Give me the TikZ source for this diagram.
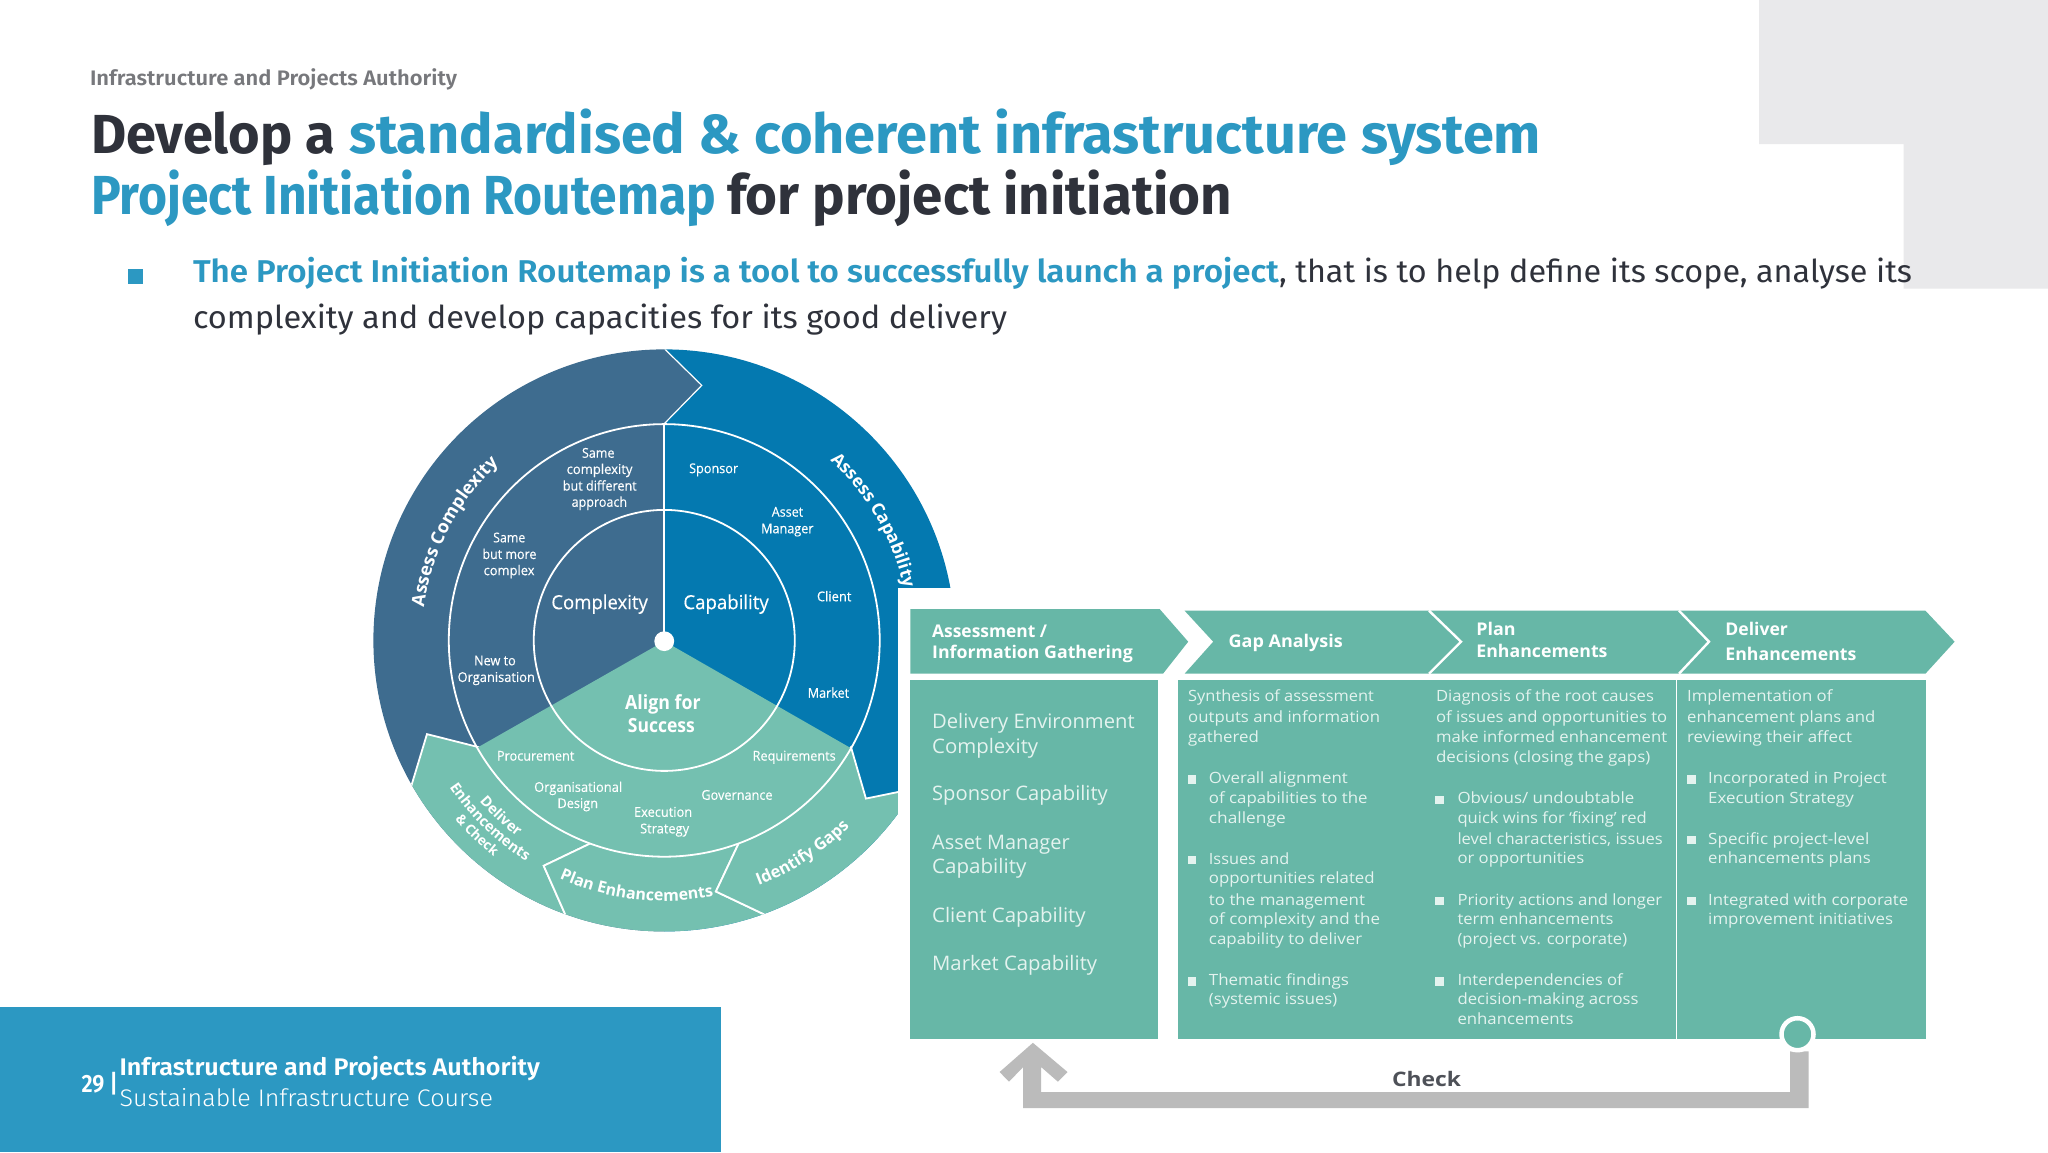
\documentclass[tikz,border=0pt]{standalone}
\usepackage{graphicx}
\usepackage{fontspec}
\usetikzlibrary{decorations.text}
\setmainfont{Fira Sans}
\newfontfamily\fsemi{Fira Sans SemiBold}
\newfontfamily\flight{Fira Sans Light}
\newfontfamily\osr{Open Sans}
\newfontfamily\ossb{Open Sans}[FakeBold=0.25]
\definecolor{slideblue}{HTML}{2C98C2}
\definecolor{ink}{HTML}{2F323B}
\definecolor{headgrey}{HTML}{77787C}
\definecolor{panel}{HTML}{E9E9EB}
\definecolor{dkwheel}{HTML}{3E6C8F}
\definecolor{bluewheel}{HTML}{0479B0}
\definecolor{tealwheel}{HTML}{74C0B0}
\definecolor{teal}{HTML}{67B7A7}
\definecolor{soft}{HTML}{E4F3EF}
\definecolor{pipe}{HTML}{BBBBBB}
\newcounter{tn}
\def\zf{1}
\tikzset{
  ztext/.style={anchor=base west,inner sep=0pt,outer sep=0pt},
  wline/.style={draw=white,line width=1.8pt},
  wseg/.style={fill=tealwheel,draw=white,line width=1.8pt,line join=miter},
  chevline/.style={draw=white,line width=2.4pt},
  tealfill/.style={fill=teal,draw=none},
  bull/.style={fill=soft,draw=none},
}
% font, x1, x2, baseline y, text  (x1..x2 forces the printed width)
\newcommand\zt[5]{\stepcounter{tn}\pgfmathsetmacro\wz{(#3-#2)*\zf}%
  \node[ztext] (t\arabic{tn}) at (#2,#4) {\resizebox{\wz pt}{\height}{#1#5}};}
\newcommand\bl[2]{\fill[bull] (#1-12,#2-12) rectangle (#1+12,#2+12);}
\newcommand\cbody{\color{soft}\osr\fontsize{15.5}{18}\selectfont}
\newcommand\cbig{\color{soft}\osr\fontsize{20}{24}\selectfont}
\newcommand\chead{\color{white}\osr\bfseries\fontsize{17.5}{20}\selectfont}
\newcommand\wsmall{\color{white}\ossb\fontsize{13.5}{16}\selectfont}
\begin{document}
\begin{tikzpicture}[x=1pt,y=-1pt]
\useasboundingbox (0,0) rectangle (2048,1152);
\fill[white] (0,0) rectangle (2048,1152);
% grey corner
\fill[panel] (1759,0) -- (2048,0) -- (2048,288.7) -- (1903.7,288.7) -- (1903.7,144) -- (1759,144) -- cycle;
% footer
\fill[slideblue] (0,1007) rectangle (721,1152);
\def\zf{1}
\zt{\color{headgrey}\fsemi\fontsize{21}{24}\selectfont}{90}{457}{85}{Infrastructure and Projects Authority}
\zt{\color{ink}\bfseries\fontsize{55}{60}\selectfont}{91}{335}{153}{Develop a}
\zt{\color{slideblue}\bfseries\fontsize{55}{60}\selectfont}{349}{1541}{153}{standardised \& coherent infrastructure system}
\zt{\color{slideblue}\bfseries\fontsize{55}{60}\selectfont}{91}{716}{214}{Project Initiation Routemap}
\zt{\color{ink}\bfseries\fontsize{55}{60}\selectfont}{727}{1232}{214}{for project initiation}
\fill[slideblue] (127.5,269) rectangle (143,284);
\zt{\color{slideblue}\fsemi\fontsize{31.5}{36}\selectfont}{193}{1279}{282}{The Project Initiation Routemap is a tool to successfully launch a project}
\zt{\color{ink}\fontsize{31.5}{36}\selectfont}{1279}{1912}{282}{, that is to help define its scope, analyse its}
\zt{\color{ink}\fontsize{31.5}{36}\selectfont}{193}{1007}{328}{complexity and develop capacities for its good delivery}
\zt{\color{white}\fsemi\fontsize{25}{28}\selectfont}{81.5}{118}{1092}{29 |}
\zt{\color{white}\fsemi\fontsize{24}{28}\selectfont}{119.5}{540}{1075}{Infrastructure and Projects Authority}
\zt{\color{white}\flight\fontsize{24}{28}\selectfont}{119.5}{493}{1106}{Sustainable Infrastructure Course}

% ---------- wheel
\def\zf{0.38270}
\begin{scope}[shift={(360,330)},x=0.38270pt,y=-0.39541pt]
  \begin{scope}
    \clip (795,785) circle [x radius=760,y radius=736];
    \fill[bluewheel] (795,0) rectangle (1600,1600);
    \fill[dkwheel] (0,0) -- (795,0) -- (795,47) -- (893,140) -- (795,237) -- (795,1600) -- (0,1600) -- cycle;
    \draw[wline,line width=1.2pt] (795,47) -- (893,140) -- (795,237);
    \path[wseg] (175,1022) -- (110,1230) -- (300,1560) -- (560,1530) -- (480,1355) -- (605,1297) -- (310,1055) -- cycle;
    \path[wseg] (605,1297) -- (480,1355) -- (560,1530) -- (795,1600) -- (1150,1521) -- (930,1420) -- (990,1297) -- cycle;
    \path[wseg] (990,1297) -- (930,1420) -- (1150,1521) -- (1600,1500) -- (1600,1130) -- (1322,1185) -- (1283,1055) -- cycle;
  \end{scope}
  \begin{scope}
    \clip (795,785) circle [x radius=563,y radius=547];
    \fill[tealwheel] (795,787) -- (100,1170) -- (100,1600) -- (1500,1600) -- (1500,1178) -- cycle;
  \end{scope}
  \draw[wline] (795,785) circle [x radius=563,y radius=547];
  \draw[wline] (795,785) circle [x radius=341,y radius=330];
  \draw[wline] (795,237) -- (795,787);
  \fill[white] (795,787) circle [x radius=26,y radius=25];
  % ring labels
  \zt{\wsmall}{580}{665}{323}{Same}
  \zt{\wsmall}{540}{712}{364}{complexity}
  \zt{\wsmall}{530}{723}{406}{but different}
  \zt{\wsmall}{553}{698}{447}{approach}
  \zt{\wsmall}{348}{432}{537}{Same}
  \zt{\wsmall}{320}{461}{579}{but more}
  \zt{\wsmall}{323}{456}{620}{complex}
  \zt{\wsmall}{298}{407}{848}{New to}
  \zt{\wsmall}{255}{457}{890}{Organisation}
  \zt{\wsmall}{860}{988}{362}{Sponsor}
  \zt{\wsmall}{1076}{1158}{472}{Asset}
  \zt{\wsmall}{1048}{1185}{514}{Manager}
  \zt{\wsmall}{1194}{1284}{686}{Client}
  \zt{\wsmall}{1170}{1278}{930}{Market}
  \zt{\wsmall}{358}{560}{1089}{Procurement}
  \zt{\wsmall}{1026}{1243}{1089}{Requirements}
  \zt{\wsmall}{455}{685}{1168}{Organisational}
  \zt{\wsmall}{516}{622}{1209}{Design}
  \zt{\wsmall}{892}{1078}{1188}{Governance}
  \zt{\wsmall}{716}{868}{1231}{Execution}
  \zt{\wsmall}{732}{860}{1273}{Strategy}
  \zt{\color{white}\ossb\fontsize{19.5}{22}\selectfont}{500}{752}{706}{Complexity}
  \zt{\color{white}\ossb\fontsize{19.5}{22}\selectfont}{845}{1068}{706}{Capability}
  \zt{\color{white}\osr\bfseries\fontsize{19.5}{22}\selectfont}{693}{890}{960}{Align for}
  \zt{\color{white}\osr\bfseries\fontsize{19.5}{22}\selectfont}{700}{875}{1018}{Success}
\end{scope}
% curved labels, polar about the wheel centre
\begin{scope}[shift={(664.5,641)},x=1pt,y=1pt]
  \path[decorate,decoration={text along path,text align=center,
     text={|\color{white}\osr\bfseries\fontsize{18}{20}\selectfont|Assess Complexity}}]
     (178:243) arc [start angle=178,end angle=127,radius=243];
  \path[decorate,decoration={text along path,text align=center,
     text={|\color{white}\osr\bfseries\fontsize{16}{20}\selectfont|Plan Enhancements}}]
     (239:260) arc [start angle=239,end angle=288,radius=260];
  \path[decorate,decoration={text along path,text align=center,
     text={|\color{white}\osr\bfseries\fontsize{16.5}{20}\selectfont|Identify Gaps}}]
     (283:262) arc [start angle=283,end angle=323,radius=262];
  \path[decorate,decoration={text along path,text align=center,
     text={|\color{white}\osr\bfseries\fontsize{14.5}{20}\selectfont|Deliver}}]
     (207:245) arc [start angle=207,end angle=247,radius=245];
  \path[decorate,decoration={text along path,text align=center,
     text={|\color{white}\osr\bfseries\fontsize{14.5}{20}\selectfont|Enhancements}}]
     (204:260) arc [start angle=204,end angle=248,radius=260];
  \path[decorate,decoration={text along path,text align=center,
     text={|\color{white}\osr\bfseries\fontsize{13.5}{20}\selectfont|{\&} Check}}]
     (208:275) arc [start angle=208,end angle=244,radius=275];
\end{scope}

% ---------- stage chart
\fill[white] (898,588) rectangle (2048,1152);
\begin{scope}[shift={(664.5,641)},x=1pt,y=1pt]
  \path[decorate,decoration={text along path,text align=center,
     text={|\color{white}\osr\bfseries\fontsize{17.5}{20}\selectfont|Assess Capability}}]
     (54:245) arc [start angle=54,end angle=6,radius=245];
\end{scope}
\path[tealfill] (910.4,609) -- (1159.6,609) -- (1188.2,641.7) -- (1163,673.7) -- (910.4,673.7) -- cycle;
\path[tealfill] (1184.6,610.7) -- (1925.4,610.7) -- (1954.6,641.7) -- (1925.4,673.7) -- (1184.6,673.7) -- (1213.2,641.7) -- cycle;
\draw[chevline] (1429,610.7) -- (1461,641.7) -- (1429,673.7);
\draw[chevline] (1679,610.7) -- (1709,641.7) -- (1679,673.7);
\path[tealfill] (910,679.5) rectangle (1158,1038.7);
\path[tealfill] (1177.5,679.5) rectangle (1926.4,1038.7);
\draw[white,line width=1.5pt] (1676.4,679.5) -- (1676.4,1038.7);
% check loop
\fill[pipe] (1790,1051.4) -- (1808.6,1051.4) -- (1808.6,1108) -- (1023.2,1108) -- (1023.2,1067) -- (1009,1081.7) -- (999.6,1072) -- (1032.9,1042.8) -- (1067.5,1072) -- (1057.9,1081.7) -- (1041.1,1067) -- (1041.1,1092) -- (1790,1092) -- cycle;
\node[circle,fill=teal,draw=white,line width=4.5pt,minimum size=32pt,inner sep=0pt] (ring) at (1797.5,1034.2) {};
\def\zf{1}
\zt{\color{ink!85}\osr\bfseries\fontsize{20}{22}\selectfont}{1392}{1461}{1086}{Check}

\def\zf{0.35714}
\begin{scope}[shift={(890,590)},x=0.35714pt,y=-0.34435pt]
  \zt{\chead}{118}{440}{137}{Assessment /}
  \zt{\chead}{118}{680}{198}{Information Gathering}
  \zt{\chead}{948}{1268}{168}{Gap Analysis}
  \zt{\cbig}{118}{685}{402}{Delivery Environment}
  \zt{\cbig}{118}{415}{475}{Complexity}
  \zt{\cbig}{118}{610}{612}{Sponsor Capability}
  \zt{\cbig}{118}{503}{755}{Asset Manager}
  \zt{\cbig}{118}{382}{823}{Capability}
  \zt{\cbig}{118}{548}{965}{Client Capability}
  \zt{\cbig}{118}{580}{1105}{Market Capability}
  \zt{\cbody}{835}{1355}{325}{Synthesis of assessment}
  \zt{\cbody}{835}{1372}{385}{outputs and information}
  \zt{\cbody}{835}{1033}{443}{gathered}
  \bl{845}{550}
  \zt{\cbody}{893}{1282}{563}{Overall alignment}
  \zt{\cbody}{893}{1337}{621}{of capabilities to the}
  \zt{\cbody}{893}{1108}{677}{challenge}
  \bl{845}{785}
  \zt{\cbody}{893}{1118}{797}{Issues and}
  \zt{\cbody}{893}{1357}{853}{opportunities related}
  \zt{\cbody}{893}{1330}{915}{to the management}
  \zt{\cbody}{893}{1372}{972}{of complexity and the}
  \zt{\cbody}{893}{1322}{1030}{capability to deliver}
  \bl{845}{1137}
  \zt{\cbody}{893}{1285}{1148}{Thematic findings}
  \zt{\cbody}{893}{1252}{1205}{(systemic issues)}
\end{scope}
\begin{scope}[shift={(1420,590)},x=0.35714pt,y=-0.34435pt]
  \zt{\chead}{158}{268}{133}{Plan}
  \zt{\chead}{158}{525}{195}{Enhancements}
  \zt{\chead}{855}{1030}{133}{Deliver}
  \zt{\chead}{855}{1222}{205}{Enhancements}
  \zt{\cbody}{45}{655}{325}{Diagnosis of the root causes}
  \zt{\cbody}{45}{692}{385}{of issues and opportunities to}
  \zt{\cbody}{45}{692}{443}{make informed enhancement}
  \zt{\cbody}{45}{645}{502}{decisions (closing the gaps)}
  \bl{55}{610}
  \zt{\cbody}{105}{600}{620}{Obvious/ undoubtable}
  \zt{\cbody}{105}{635}{677}{quick wins for ‘fixing’ red}
  \zt{\cbody}{105}{680}{738}{level characteristics, issues}
  \zt{\cbody}{105}{460}{795}{or opportunities}
  \bl{55}{903}
  \zt{\cbody}{105}{678}{915}{Priority actions and longer}
  \zt{\cbody}{105}{542}{972}{term enhancements}
  \zt{\cbody}{105}{580}{1030}{(project vs. corporate)}
  \bl{55}{1137}
  \zt{\cbody}{105}{568}{1148}{Interdependencies of}
  \zt{\cbody}{105}{612}{1205}{decision-making across}
  \zt{\cbody}{105}{430}{1262}{enhancements}
  \zt{\cbody}{748}{1155}{325}{Implementation of}
  \zt{\cbody}{748}{1275}{385}{enhancement plans and}
  \zt{\cbody}{748}{1210}{443}{reviewing their affect}
  \bl{760}{550}
  \zt{\cbody}{807}{1307}{563}{Incorporated in Project}
  \zt{\cbody}{807}{1215}{620}{Execution Strategy}
  \bl{760}{727}
  \zt{\cbody}{807}{1258}{738}{Specific project-level}
  \zt{\cbody}{807}{1262}{795}{enhancements plans}
  \bl{760}{903}
  \zt{\cbody}{807}{1367}{915}{Integrated with corporate}
  \zt{\cbody}{807}{1325}{972}{improvement initiatives}
\end{scope}
\end{tikzpicture}
\end{document}
